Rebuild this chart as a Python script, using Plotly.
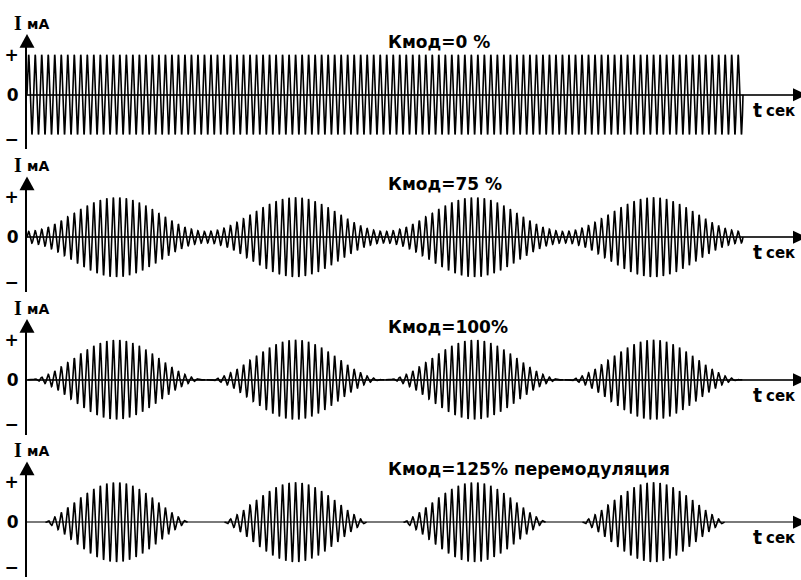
import numpy as np
import plotly.graph_objects as go

# ---- data -------------------------------------------------------------
kmod_percent = [0, 75, 100, 125]              # modulation depth of each trace
titles = ["Кмод=0 %", "Кмод=75 %", "Кмод=100%", "Кмод=125% перемодуляция"]
carrier_cycles = 110                          # carrier periods over the record
mod_periods = 4                               # envelope periods over the record
tick_vals = [1.0, 0.0, -1.12]
tick_text = ["+", "0", "−"]
y_name, y_unit = "I", "мА"
x_name, x_unit = "t", "сек"

# ---- layout constants (pixels) -----------------------------------------
W, H = 801, 580
zero_px = [93, 236, 379, 522]     # vertical position of each time axis
unit_px = 40                      # pixels per unit of current
axis_below, axis_above = 55, 48   # y-axis line extent around zero
x_left, x_end, sig_end = 27, 794, 743
px_per_t = (sig_end - x_left) / mod_periods
SANS = "DejaVu Sans"
SERIF = "Liberation Serif"


def px(x, y):
    return x / W, 1 - y / H


fig = go.Figure()
layout = {}
shapes, annotations = [], []

t = np.linspace(0, mod_periods, carrier_cycles * 48 + 1)
carrier = np.sin(2 * np.pi * carrier_cycles / mod_periods * t)

for i, (m_pct, title, z) in enumerate(zip(kmod_percent, titles, zero_px)):
    m = m_pct / 100.0
    env = np.clip(1 - m * np.cos(2 * np.pi * t), 0, None) / (1 + m)
    y = np.where(env > 1e-4, env * carrier, np.nan)

    sfx = "" if i == 0 else str(i + 1)
    fig.add_trace(go.Scatter(
        x=t, y=y, mode="lines",
        line=dict(color="black", width=1.6),
        xaxis="x" + sfx, yaxis="y" + sfx,
        hoverinfo="skip", showlegend=False, connectgaps=False,
    ))

    layout["xaxis" + sfx] = dict(
        domain=[x_left / W, x_end / W],
        range=[0, (x_end - x_left) / px_per_t],
        visible=False, anchor="y" + sfx,
    )
    layout["yaxis" + sfx] = dict(
        domain=[1 - (z + axis_below) / H, 1 - (z - axis_above) / H],
        range=[-axis_below / unit_px, axis_above / unit_px],
        anchor="x" + sfx,
        showline=True, linecolor="black", linewidth=1.8,
        ticks="", tickvals=tick_vals,
        ticktext=[f"<b>{s}</b>" for s in tick_text],
        tickfont=dict(family=SANS, size=17, color="black"),
        ticklabelstandoff=3,
        zeroline=True, zerolinecolor="#333333" if i < 3 else "#7a7a7a",
        zerolinewidth=1.8,
        showgrid=False,
    )

    # arrow heads of both axes
    ax0, ay0 = px(x_left - 7.5, z - axis_above + 1)
    ax1, ay1 = px(x_left, z - axis_above - 13)
    ax2, ay2 = px(x_left + 7.5, z - axis_above + 1)
    shapes.append(dict(type="path", xref="paper", yref="paper",
                       path=f"M {ax0} {ay0} L {ax1} {ay1} L {ax2} {ay2} Z",
                       fillcolor="black", line=dict(width=0)))
    bx0, by0 = px(x_end - 1, z - 6.5)
    bx1, by1 = px(x_end + 13, z)
    bx2, by2 = px(x_end - 1, z + 6.5)
    shapes.append(dict(type="path", xref="paper", yref="paper",
                       path=f"M {bx0} {by0} L {bx1} {by1} L {bx2} {by2} Z",
                       fillcolor="black", line=dict(width=0)))

    # axis names
    annotations += [
        dict(x=17.5 / W, y=1 - (z - 72) / H, xref="paper", yref="paper",
             text=f"<b>{y_name}</b>", showarrow=False,
             xanchor="center", yanchor="middle",
             font=dict(family=SERIF, size=20, color="black")),
        dict(x=25 / W, y=1 - (z - 71) / H, xref="paper", yref="paper",
             text=f"<b>{y_unit}</b>", showarrow=False,
             xanchor="left", yanchor="middle",
             font=dict(family=SANS, size=14, color="black")),
        dict(x=751 / W, y=1 - (z + 15) / H, xref="paper", yref="paper",
             text=f"<b>{x_name}</b>", showarrow=False,
             xanchor="left", yanchor="middle",
             font=dict(family=SANS, size=19, color="black")),
        dict(x=764 / W, y=1 - (z + 16) / H, xref="paper", yref="paper",
             text=f"<b>{x_unit}</b>", showarrow=False,
             xanchor="left", yanchor="middle",
             font=dict(family=SANS, size=15, color="black")),
        dict(x=386 / W, y=1 - (z - 53) / H, xref="paper", yref="paper",
             text=f"<b>{title}</b>", showarrow=False,
             xanchor="left", yanchor="middle",
             font=dict(family=SANS, size=17, color="black")),
    ]

fig.update_layout(
    width=W, height=H,
    margin=dict(l=0, r=0, t=0, b=0),
    paper_bgcolor="white", plot_bgcolor="rgba(0,0,0,0)",
    shapes=shapes, annotations=annotations,
    **layout,
)

fig.write_html("out.html")
